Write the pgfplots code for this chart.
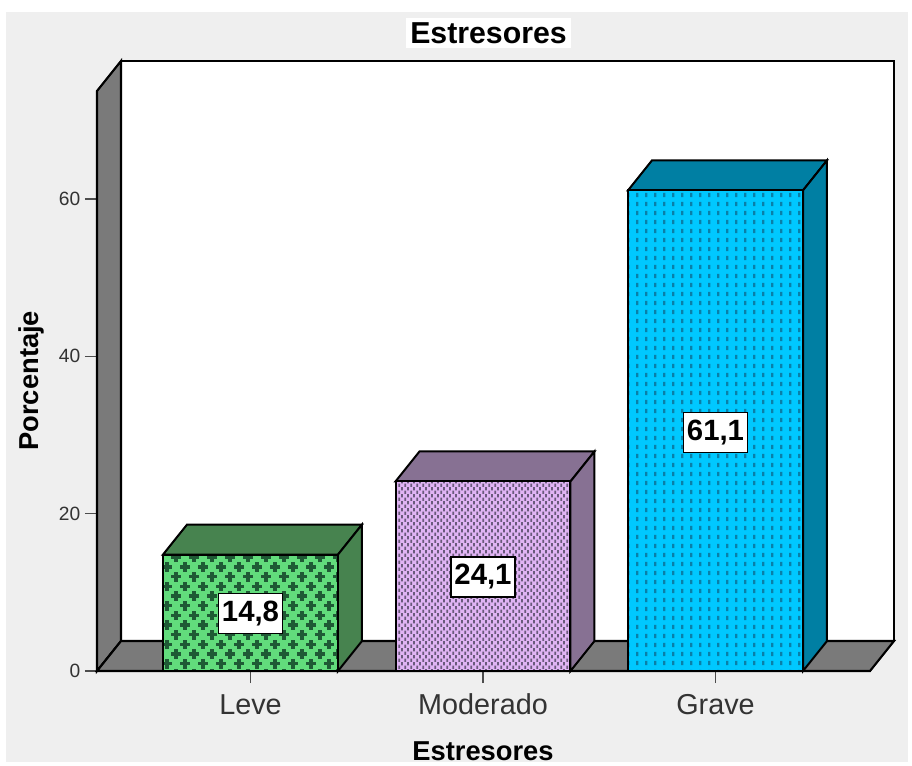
\documentclass[border=0pt]{standalone}
\usepackage{fontspec}
\setmainfont{Liberation Sans}
\usepackage{pgfplots}
\pgfplotsset{compat=1.18}
\usetikzlibrary{patterns}
\definecolor{bggray}{HTML}{EFEFEF}
\definecolor{wallgray}{HTML}{7A7A7A}
\definecolor{gfront}{HTML}{62DC7C}
\definecolor{gdark}{HTML}{47834F}
\definecolor{gpat}{HTML}{1F5A35}
\definecolor{pfront}{HTML}{E0B4F4}
\definecolor{pdark}{HTML}{877193}
\definecolor{ppat}{HTML}{6A5A7C}
\definecolor{bfront}{HTML}{00C8FF}
\definecolor{bdark}{HTML}{007FA3}
\definecolor{bpat}{HTML}{0A7FA8}
\pgfdeclarepatternformonly{plusgrid}{\pgfqpoint{-1pt}{-1pt}}{\pgfqpoint{15pt}{15pt}}{\pgfqpoint{13.5pt}{14.5pt}}{%
  \pgfsetlinewidth{2.6pt}%
  \pgfpathmoveto{\pgfqpoint{0.2pt}{3.6pt}}\pgfpathlineto{\pgfqpoint{7.4pt}{3.6pt}}%
  \pgfpathmoveto{\pgfqpoint{3.8pt}{0pt}}\pgfpathlineto{\pgfqpoint{3.8pt}{7.2pt}}%
  \pgfpathmoveto{\pgfqpoint{6.95pt}{10.85pt}}\pgfpathlineto{\pgfqpoint{14.15pt}{10.85pt}}%
  \pgfpathmoveto{\pgfqpoint{10.55pt}{7.25pt}}\pgfpathlineto{\pgfqpoint{10.55pt}{14.45pt}}%
  \pgfusepath{stroke}}
\pgfdeclarepatternformonly{dotgrid}{\pgfqpoint{0pt}{0pt}}{\pgfqpoint{4.6pt}{5.2pt}}{\pgfqpoint{4.6pt}{5.2pt}}{%
  \pgfpathrectangle{\pgfqpoint{0.4pt}{0.1pt}}{\pgfqpoint{1.5pt}{2.4pt}}%
  \pgfpathrectangle{\pgfqpoint{2.7pt}{2.7pt}}{\pgfqpoint{1.5pt}{2.4pt}}%
  \pgfusepath{fill}}
\pgfdeclarepatternformonly{dashcols}{\pgfqpoint{0pt}{0pt}}{\pgfqpoint{6.6pt}{6.75pt}}{\pgfqpoint{6.6pt}{6.75pt}}{%
  \pgfpathrectangle{\pgfqpoint{2.4pt}{1.6pt}}{\pgfqpoint{1.8pt}{3.5pt}}%
  \pgfusepath{fill}}
\begin{document}
\begin{tikzpicture}[x=1pt,y=1pt]
\fill[white] (-72.75,-68.25) rectangle (611.25,503.25);
\fill[bggray] (-68.25,-68.25) rectangle (608.25,494.25);
\begin{axis}[
  scale only axis, width=579.75pt, height=435pt,
  xmin=-0.6602, xmax=2.6645, ymin=0, ymax=73.73,
  clip=false,
  axis x line*=bottom, axis y line*=left,
  axis line style={-, black, line width=1.6pt},
  tick align=outside, major tick length=9pt,
  tick style={line width=1.1pt, black!70},
  xtick={0,1,2}, xticklabels={Leve,Moderado,Grave},
  ytick={0,20,40,60},
  minor tick num=0,
  /pgf/number format/assume math mode=true,
  x tick label style={font=\fontsize{21.6}{24}\selectfont, text=black!80, text height=16pt, text depth=0pt, yshift=-4pt},
  y tick label style={font=\fontsize{14.4}{16}\selectfont, text=black!80},
  every axis title/.style={at={(axis cs:1.0237,81.1)}, anchor=center},
  title style={font=\bfseries\fontsize{22.7}{26}\selectfont, fill=white, inner xsep=3.5pt, inner ysep=3pt},
  title={Estresores},
  xlabel={Estresores},
  ylabel={Porcentaje},
  every axis x label/.style={at={(axis cs:1,-10.2)}, anchor=center, font=\bfseries\fontsize{20.5}{24}\selectfont},
  every axis y label/.style={at={(axis cs:-0.944,36.9)}, rotate=90, anchor=center, font=\bfseries\fontsize{20.5}{24}\selectfont},
]
% walls
\addplot[fill=white, draw=black, line width=1.6pt] coordinates {(-0.5570,3.81) (2.7677,3.81) (2.7677,77.54) (-0.5570,77.54)} -- cycle;
\addplot[fill=wallgray, draw=black, line width=1.6pt] coordinates {(-0.6602,0) (-0.5570,3.81) (-0.5570,77.54) (-0.6602,73.73)} -- cycle;
\addplot[fill=wallgray, draw=black, line width=1.6pt] coordinates {(-0.6602,0) (-0.5570,3.81) (2.7677,3.81) (2.6645,0)} -- cycle;
% Leve
\addplot[fill=gdark, draw=black, line width=1.5pt] coordinates {(-0.3763,14.8) (-0.2731,18.61) (0.4795,18.61) (0.3763,14.8)} -- cycle;
\addplot[fill=gdark, draw=black, line width=1.5pt] coordinates {(0.3763,0) (0.4795,3.81) (0.4795,18.61) (0.3763,14.8)} -- cycle;
\addplot[fill=gfront, draw=none] coordinates {(-0.3763,0) (-0.3763,14.8) (0.3763,14.8) (0.3763,0)} -- cycle;
\addplot[pattern=plusgrid, pattern color=gpat, draw=black, line width=1.5pt] coordinates {(-0.3763,0) (-0.3763,14.8) (0.3763,14.8) (0.3763,0)} -- cycle;
% Moderado
\addplot[fill=pdark, draw=black, line width=1.5pt] coordinates {(0.6237,24.1) (0.7269,27.91) (1.4795,27.91) (1.3763,24.1)} -- cycle;
\addplot[fill=pdark, draw=black, line width=1.5pt] coordinates {(1.3763,0) (1.4795,3.81) (1.4795,27.91) (1.3763,24.1)} -- cycle;
\addplot[fill=pfront, draw=none] coordinates {(0.6237,0) (0.6237,24.1) (1.3763,24.1) (1.3763,0)} -- cycle;
\addplot[pattern=dotgrid, pattern color=ppat, draw=black, line width=1.5pt] coordinates {(0.6237,0) (0.6237,24.1) (1.3763,24.1) (1.3763,0)} -- cycle;
% Grave
\addplot[fill=bdark, draw=black, line width=1.5pt] coordinates {(1.6237,61.1) (1.7269,64.91) (2.4795,64.91) (2.3763,61.1)} -- cycle;
\addplot[fill=bdark, draw=black, line width=1.5pt] coordinates {(2.3763,0) (2.4795,3.81) (2.4795,64.91) (2.3763,61.1)} -- cycle;
\addplot[fill=bfront, draw=none] coordinates {(1.6237,0) (1.6237,61.1) (2.3763,61.1) (2.3763,0)} -- cycle;
\addplot[pattern=dashcols, pattern color=bpat, draw=black, line width=1.5pt] coordinates {(1.6237,0) (1.6237,61.1) (2.3763,61.1) (2.3763,0)} -- cycle;
% labels
\tikzset{vallab/.style={fill=white, draw=black, line width=0.8pt, font=\bfseries\fontsize{22}{26}\selectfont, minimum width=48pt, minimum height=30pt, inner sep=0pt}}
\node[vallab] at (axis cs:0,7.3) {14,8};
\node[vallab] at (axis cs:1,11.95) {24,1};
\node[vallab] at (axis cs:2,30.3) {61,1};
\end{axis}
\useasboundingbox (-72.75,-68.25) rectangle (611.25,503.25);
\end{tikzpicture}
\end{document}
